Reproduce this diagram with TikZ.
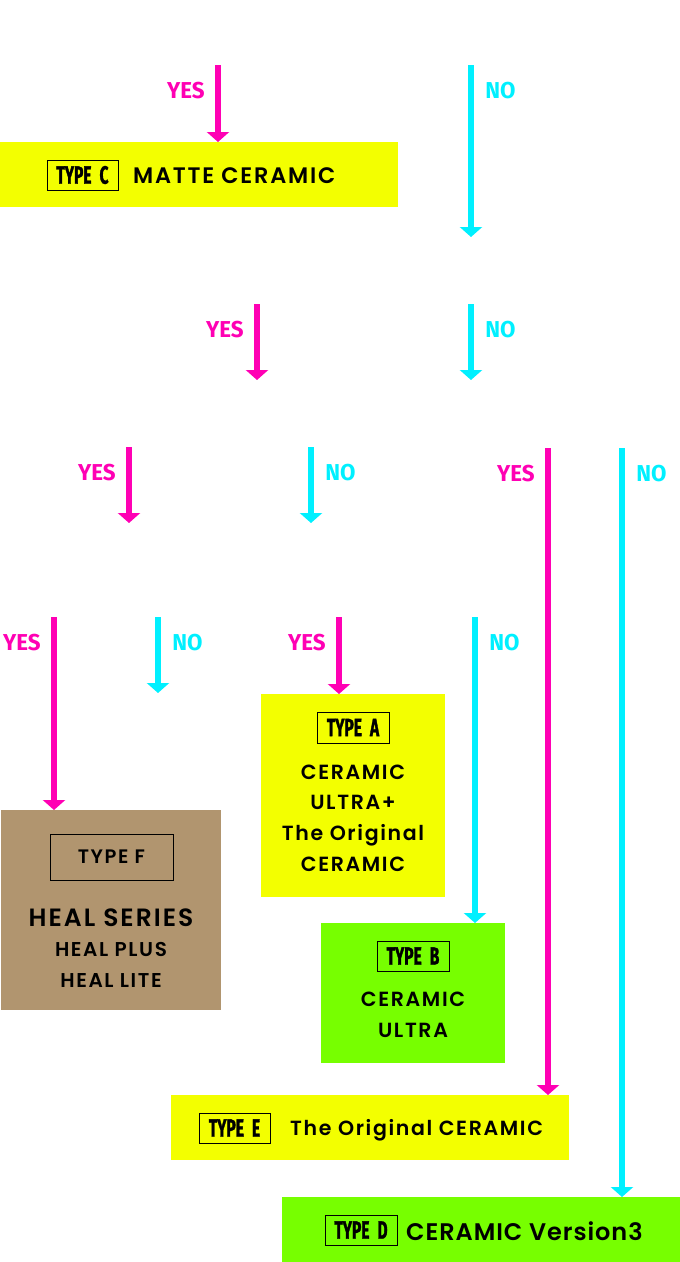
\documentclass[tikz,border=0pt]{standalone}
\usepackage{fontspec}
\usetikzlibrary{arrows.meta,positioning}
\setmainfont{Poppins}[UprightFont={* SemiBold}, BoldFont={* Bold}, LetterSpace=8]
\newfontfamily\tagfont{Fira Sans}[FakeStretch=0.62, FakeBold=1.3, WordSpace=2.2]
\newfontfamily\ynfont{Fira Sans}[FakeStretch=0.97]
\definecolor{ansyes}{HTML}{FF00B4}
\definecolor{ansno}{HTML}{00F0FF}
\definecolor{ceryellow}{HTML}{F3FF00}
\definecolor{cergreen}{HTML}{77FF00}
\definecolor{healtan}{HTML}{B1956F}
\tikzset{
  yesarr/.style ={draw=ansyes, line width=6.5pt, -{Triangle[length=10pt,width=22pt]}},
  noarr/.style  ={draw=ansno, line width=6.5pt, -{Triangle[length=10pt,width=22pt]}},
  yeslbl/.style ={pos=0, anchor=north east, xshift=-10pt, yshift=-14pt, inner sep=0pt,
                  font=\ynfont\bfseries\fontsize{23}{25}\selectfont, text=ansyes},
  nolbl/.style  ={pos=0, anchor=north west, xshift=11pt, yshift=-14pt, inner sep=0pt,
                  font=\ynfont\bfseries\fontsize{23}{25}\selectfont, text=ansno},
  panel/.style  ={anchor=north west, inner sep=0pt, outer sep=0pt},
  tagbox/.style ={draw=black, line width=1pt, inner sep=0pt, minimum width=71pt,
                  minimum height=30pt, font=\tagfont\bfseries\fontsize{25}{25}\selectfont},
  prod/.style   ={inner sep=0pt, align=center, font=\fontsize{20.5}{30.7}\selectfont},
  line/.style   ={inner sep=0pt, anchor=west},
}

\begin{document}
\begin{tikzpicture}[x=1pt,y=1pt]
  \useasboundingbox[fill=white] (0,0) rectangle (680,-1262);
  % result panels
  \node[panel, fill=ceryellow, minimum width=398pt, minimum height=65pt] (typeC) at (0,-142) {};
  \node[panel, fill=healtan, minimum width=220pt, minimum height=200pt] (typeF) at (1,-810) {};
  \node[panel, fill=ceryellow, minimum width=184pt, minimum height=203pt] (typeA) at (261,-694) {};
  \node[panel, fill=cergreen, minimum width=184pt, minimum height=140pt] (typeB) at (321,-923) {};
  \node[panel, fill=ceryellow, minimum width=398pt, minimum height=65pt] (typeE) at (171,-1095) {};
  \node[panel, fill=cergreen, minimum width=398pt, minimum height=65pt] (typeD) at (282,-1197) {};

  % type tags and product names
  \node[tagbox] (tagC) at (82.5,-175) {TYPE C};
  \node[line, font=\fontsize{22.4}{24}\selectfont] (nameC) at (133,-176) {MATTE CERAMIC};
  \node[tagbox] (tagE) at (234.5,-1128) {TYPE E};
  \node[line, font=\fontsize{20.5}{24}\selectfont] (nameE) at (290,-1130) {The Original CERAMIC};
  \node[tagbox, minimum width=72pt] (tagD) at (361,-1230) {TYPE D};
  \node[line, font=\fontsize{24}{24}\selectfont\addfontfeatures{LetterSpace=4}] (nameD)
    at (406,-1231) {CERAMIC Version3};
  \node[tagbox, minimum width=72pt, minimum height=31pt] (tagA) at (353,-727.5) {TYPE A};
  \node[prod] (nameA) at (353,-818) {CERAMIC\\ULTRA+\\The Original\\CERAMIC};
  \node[tagbox, minimum width=72pt] (tagB) at (413,-956) {TYPE B};
  \node[prod] (nameB) at (413,-1015) {CERAMIC\\ULTRA};
  \node[draw=black, line width=1pt, minimum width=123pt, minimum height=46pt, inner sep=0pt,
        font=\fontsize{19.5}{19.5}\selectfont] (tagF) at (111.5,-857) {TYPE F};
  \node[prod, font=\fontsize{20}{30.5}\selectfont] (nameF) at (111,-948)
    {{\fontsize{25}{25}\selectfont HEAL SERIES}\\HEAL PLUS\\HEAL LITE};

  % open ends of the question arrows
  \coordinate (q1) at (218,-65);
  \coordinate (q2) at (471,-65);
  \coordinate (q2e) at (471,-237);
  \coordinate (q3) at (257,-304);
  \coordinate (q3e) at (257,-380);
  \coordinate (q4) at (471,-304);
  \coordinate (q4e) at (471,-380);
  \coordinate (q5) at (129,-447);
  \coordinate (q5e) at (129,-523);
  \coordinate (q6) at (311,-447);
  \coordinate (q6e) at (311,-523);
  \coordinate (q7) at (548,-448);
  \coordinate (q8) at (622,-448);
  \coordinate (q9) at (54,-617);
  \coordinate (q10) at (158,-617);
  \coordinate (q10e) at (158,-693);
  \coordinate (q11) at (339,-617);
  \coordinate (q12) at (475,-617);

  \draw[yesarr] (q1) -- node[yeslbl] {YES} (typeC.north -| q1);
  \draw[noarr] (q2) -- node[nolbl] {NO} (q2e);
  \draw[yesarr] (q3) -- node[yeslbl] {YES} (q3e);
  \draw[noarr] (q4) -- node[nolbl] {NO} (q4e);
  \draw[yesarr] (q5) -- node[yeslbl] {YES} (q5e);
  \draw[noarr] (q6) -- node[nolbl] {NO} (q6e);
  \draw[yesarr] (q7) -- node[yeslbl] {YES} (typeE.north -| q7);
  \draw[noarr] (q8) -- node[nolbl] {NO} (typeD.north -| q8);
  \draw[yesarr] (q9) -- node[yeslbl] {YES} (typeF.north -| q9);
  \draw[noarr] (q10) -- node[nolbl] {NO} (q10e);
  \draw[yesarr] (q11) -- node[yeslbl] {YES} (typeA.north -| q11);
  \draw[noarr] (q12) -- node[nolbl] {NO} (typeB.north -| q12);
\end{tikzpicture}
\end{document}
